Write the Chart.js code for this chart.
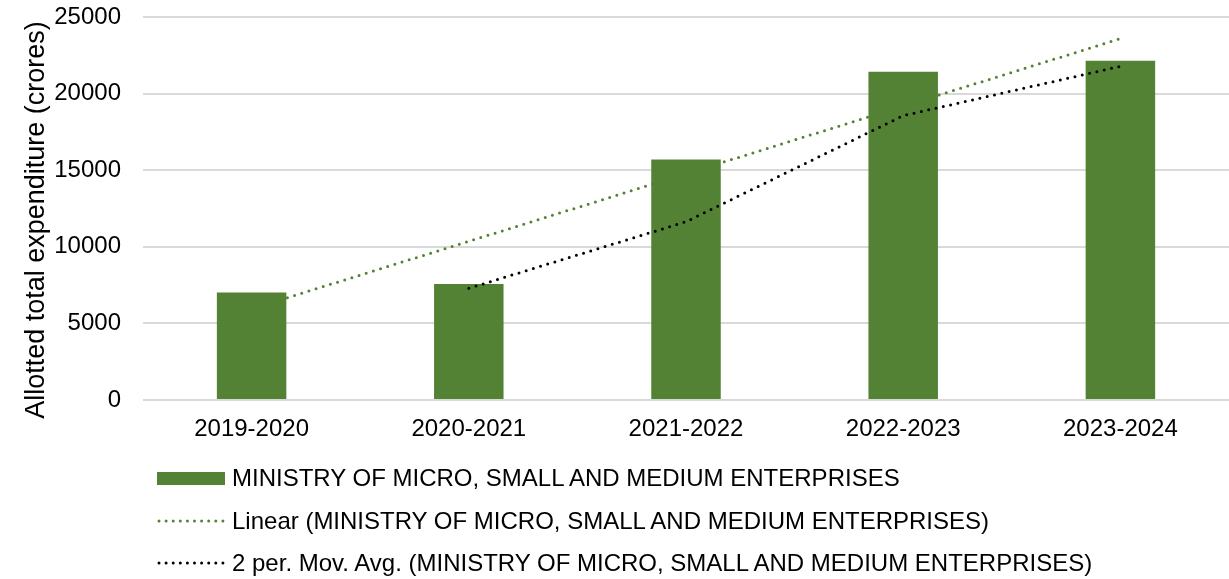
<!DOCTYPE html>
<html><head><meta charset="utf-8">
<script src="https://cdn.jsdelivr.net/npm/chart.js@4"></script>
<style>
html,body{margin:0;padding:0;background:#fff;}
#wrap{position:relative;width:1229px;height:579px;}
canvas{position:absolute;left:0;top:0;}
.leg{position:absolute;left:157px;font-family:"Liberation Sans",Arial,sans-serif;font-size:24px;color:#000;white-space:nowrap;height:28px;line-height:28px;}
.leg svg{position:absolute;left:0;top:0;}
.leg span{position:absolute;left:75px;top:0;}
</style></head><body>
<div id="wrap"><canvas id="c" width="1229" height="579"></canvas>
<div class="leg" style="top:464px"><svg width="70" height="28"><rect x="0" y="8" width="68" height="13" fill="#548235"/></svg><span id="l1"></span></div>
<div class="leg" style="top:507px"><svg width="70" height="28"><line x1="2" y1="14" x2="66" y2="14" stroke="#548235" stroke-width="3" stroke-dasharray="0 7.1" stroke-linecap="round"/></svg><span id="l2"></span></div>
<div class="leg" style="top:549px"><svg width="70" height="28"><line x1="2" y1="14" x2="66" y2="14" stroke="#000" stroke-width="3" stroke-dasharray="0 7.1" stroke-linecap="round"/></svg><span id="l3"></span></div>
</div>
<script>
const categories = ["2019-2020","2020-2021","2021-2022","2022-2023","2023-2024"];
const expenditure = [7011, 7572, 15700, 21422, 22138];
const linearTrend = [5948, 10358, 14769, 19179, 23589];
const movingAvg = [null, 7292, 11636, 18561, 21780];
const seriesName = "MINISTRY OF MICRO, SMALL AND MEDIUM ENTERPRISES";
const linearName = "Linear (MINISTRY OF MICRO, SMALL AND MEDIUM ENTERPRISES)";
const movAvgName = "2 per. Mov. Avg. (MINISTRY OF MICRO, SMALL AND MEDIUM ENTERPRISES)";
const yTitle = "Allotted total expenditure (crores)";

document.getElementById('l1').textContent = seriesName;
document.getElementById('l2').textContent = linearName;
document.getElementById('l3').textContent = movAvgName;

const fontFamily = '"Liberation Sans", Arial, sans-serif';
const font = {family: fontFamily, size: 24};

const yTitlePlugin = {
  id: 'yTitle',
  afterDraw(chart) {
    const ctx = chart.ctx;
    ctx.save();
    ctx.translate(44, 220);
    ctx.rotate(-Math.PI / 2);
    ctx.font = '27px ' + fontFamily;
    ctx.fillStyle = '#000';
    ctx.textAlign = 'center';
    ctx.textBaseline = 'alphabetic';
    ctx.fillText(yTitle, 0, 0);
    ctx.restore();
  }
};

new Chart(document.getElementById('c'), {
  data: {
    labels: categories,
    datasets: [
      {type:'line', label: linearName, data: linearTrend, borderColor:'#548235', borderWidth:3,
       borderDash:[0,7.5], borderCapStyle:'round', pointRadius:0, fill:false, order:3, tension:0},
      {type:'bar', label: seriesName, data: expenditure, backgroundColor:'#548235',
       categoryPercentage:1, barPercentage:0.32, order:2},
      {type:'line', label: movAvgName, data: movingAvg, borderColor:'#000', borderWidth:3,
       borderDash:[0,7.5], borderCapStyle:'round', pointRadius:0, fill:false, order:1, tension:0}
    ]
  },
  options: {
    responsive:false, animation:false,
    layout:{padding:{top:17, right:0, bottom:139, left:0}},
    plugins:{legend:{display:false}, tooltip:{enabled:false}},
    scales:{
      x:{grid:{display:false}, border:{display:false},
         ticks:{font, color:'#000', padding:7, maxRotation:0},
         afterFit:(s)=>{s.height=40; s.paddingLeft=0; s.paddingRight=0;}},
      y:{min:0, max:25000, grid:{color:'#d9d9d9', lineWidth:2, drawTicks:false}, border:{display:false},
         ticks:{stepSize:5000, font, color:'#000', padding:22, callback:(v)=>String(v)},
         afterFit:(s)=>{s.width=143; s.paddingTop=0; s.paddingBottom=0;}}
    }
  },
  plugins:[yTitlePlugin]
});
</script>
</body></html>
